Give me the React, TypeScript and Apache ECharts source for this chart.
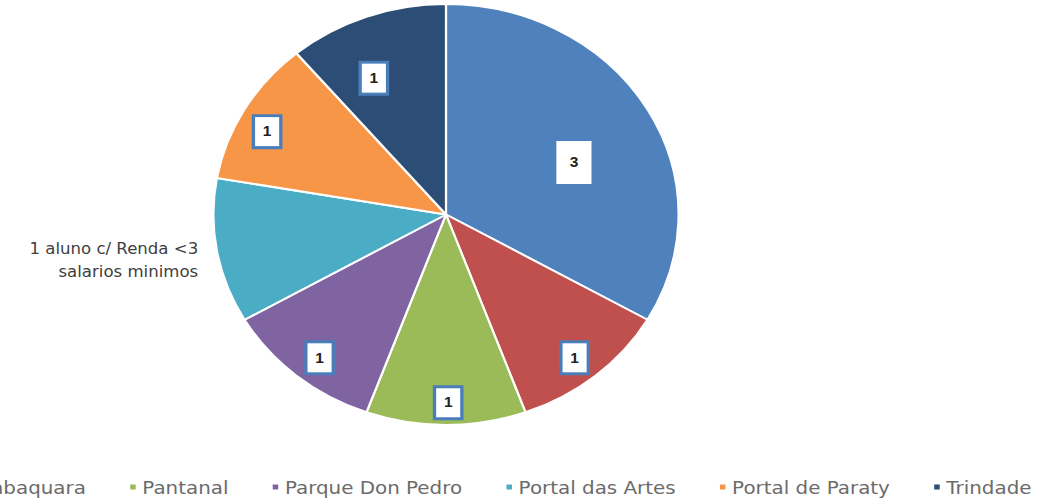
import React, { useEffect, useRef } from "react";
import * as echarts from "echarts";

const categories = ["Cidade Ademar", "Jabaquara", "Pantanal", "Parque Don Pedro", "Portal das Artes", "Portal de Paraty", "Trindade"];
const values = [3, 1, 1, 1, 1, 1, 1];
const colors = ["#4F81BD", "#C0504D", "#9BBB59", "#8064A2", "#4BACC6", "#F79646", "#2C4D75"];
const outsideLabel = "1 aluno c/ Renda <3\nsalarios minimos";

// the reference is stretched horizontally
const STRETCH = 1.105;
const W = Math.round(1041 / STRETCH);
const R = 210.5;
const CENTER = [403.6, 214.5];

// label rings: [inner radius, indices to label]
const labelRings: [number, number[]][] = [
  [44, [0]],
  [95, [6]],
  [155, [1, 3, 5]],
  [164, [2]],
];
// small nudges of the data-label boxes (styling)
const labelNudge: [number, number][] = [
  [3, 13],
  [-3, 1],
  [2, -2],
  [5, 1],
  [0, 9],
  [-1, 10],
  [-12, 10],
];

export default function App() {
  const ref = useRef<HTMLDivElement>(null);
  useEffect(() => {
    document.body.style.margin = "0";
    const chart = echarts.init(ref.current!, null, { renderer: "svg" });
    const nudge = (p: any) => ({ dx: labelNudge[p.dataIndex][0], dy: labelNudge[p.dataIndex][1] });
    const boxLabel = (big: boolean) => ({
      show: true,
      position: "inside",
      formatter: "{c}",
      color: "#222",
      fontFamily: "Liberation Sans",
      fontSize: 14,
      fontWeight: "bold",
      backgroundColor: "#fff",
      borderColor: big ? "#4F81BD" : "#4A7EBB",
      borderWidth: 3,
      padding: big ? [15, 12, 14, 12] : [8, 7, 7, 7],
    });
    const overlays = labelRings.map(([r0, idx]) => ({
      type: "pie",
      center: CENTER,
      radius: [r0, R],
      startAngle: 90,
      clockwise: true,
      silent: true,
      label: { show: false },
      labelLine: { show: false },
      labelLayout: nudge,
      itemStyle: { color: "rgba(0,0,0,0)", borderWidth: 0 },
      data: values.map((v, i) => ({
        name: categories[i],
        value: v,
        itemStyle: { color: "rgba(0,0,0,0)" },
        label: idx.includes(i) ? boxLabel(i === 0) : { show: false },
      })),
    }));
    chart.setOption({
      animation: false,
      color: colors,
      legend: {
        data: categories,
        left: -221,
        top: 473,
        icon: "rect",
        itemWidth: 7,
        itemHeight: 7,
        itemGap: 38,
        textStyle: { fontFamily: "DejaVu Sans", fontSize: 18, color: "#6b6b6b" },
      },
      series: [
        {
          type: "pie",
          center: CENTER,
          radius: [0, R],
          startAngle: 90,
          clockwise: true,
          itemStyle: { borderColor: "#fff", borderWidth: 2 },
          label: { show: false },
          labelLine: { show: false },
          labelLayout: nudge,
          data: values.map((v, i) => ({
            name: categories[i],
            value: v,
            itemStyle: { color: colors[i] },
            label:
              i === 4
                ? {
                    show: true,
                    position: "outside",
                    formatter: outsideLabel,
                    color: "#404040",
                    fontFamily: "DejaVu Sans",
                    fontSize: 15,
                    lineHeight: 23,
                    align: "center",
                  }
                : { show: false },
            labelLine: i === 4 ? { show: false, length: 4, length2: 8 } : { show: false },
          })),
        },
        ...overlays,
      ],
    });
    return () => chart.dispose();
  }, []);
  return (
    <div
      ref={ref}
      style={{ width: W, height: 500, transform: `scaleX(${STRETCH})`, transformOrigin: "0 0" }}
    />
  );
}
